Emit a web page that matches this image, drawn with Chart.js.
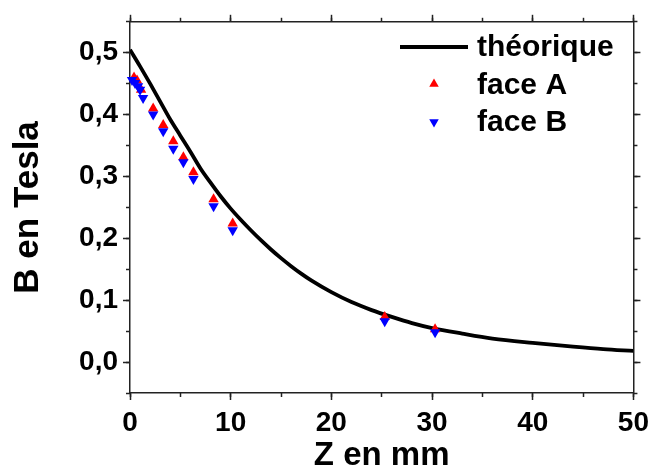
<!DOCTYPE html>
<html>
<head>
<meta charset="utf-8">
<script src="https://cdn.jsdelivr.net/npm/chart.js@4/dist/chart.umd.min.js"></script>
<style>
  body { margin: 0; background: #fff; }
  #wrap { width: 655px; height: 476px; }
</style>
</head>
<body>
<div id="wrap"><canvas id="chartContainer" width="655" height="476"></canvas></div>
<script>
// theoretical curve
var zTheo = [0, 1, 2, 3, 4, 5, 6, 7, 8, 9, 10, 11, 12, 13, 14, 15, 16, 17, 18, 20, 22, 24, 26, 28, 30, 33, 36, 40, 44, 47, 50];
var bTheo = [0.505, 0.478, 0.450, 0.421, 0.392, 0.366, 0.340, 0.313, 0.290, 0.268, 0.248, 0.230, 0.213, 0.197, 0.182, 0.168, 0.155, 0.143, 0.132, 0.113, 0.097, 0.084, 0.073, 0.063, 0.055, 0.046, 0.038, 0.031, 0.025, 0.021, 0.018];

// measurements
var zFaceA = [0.4, 0.7, 1.1, 2.3, 3.3, 4.3, 5.3, 6.3, 8.3, 10.2, 25.3, 30.3];
var bFaceA = [0.460, 0.455, 0.440, 0.410, 0.383, 0.357, 0.331, 0.307, 0.263, 0.224, 0.073, 0.053];
var zFaceB = [0.2, 0.5, 0.8, 1.0, 1.3, 2.3, 3.3, 4.3, 5.3, 6.3, 8.3, 10.2, 25.3, 30.3];
var bFaceB = [0.456, 0.451, 0.446, 0.440, 0.427, 0.400, 0.373, 0.345, 0.323, 0.296, 0.252, 0.213, 0.066, 0.048];

var seriesNames = ['théorique', 'face A', 'face B'];

// ticks
var xTicks = [0, 10, 20, 30, 40, 50];
var xTickLabels = ['0', '10', '20', '30', '40', '50'];
var xMinorTicks = [0, 5, 10, 15, 20, 25, 30, 35, 40, 45, 50];
var yTicks = [0, 0.1, 0.2, 0.3, 0.4, 0.5];
var yTickLabels = ['0,0', '0,1', '0,2', '0,3', '0,4', '0,5'];
var yMinorTicks = [-0.05, 0, 0.05, 0.1, 0.15, 0.2, 0.25, 0.3, 0.35, 0.4, 0.45, 0.5, 0.55];

function pairs(xs, ys) {
    return xs.map(function (x, i) { return { x: x, y: ys[i] }; });
}

var FONT = '"Liberation Sans", Arial, sans-serif';
var AXIS = '#222';

function setTicks(list) {
    return function (scale) {
        scale.ticks = list.map(function (v) { return { value: v }; });
    };
}

// mirror / minor tick axes, no labels, zero size
function tickAxis(pos, min, max, list, len, border) {
    return {
        type: 'linear',
        position: pos,
        min: min,
        max: max,
        weight: 0,
        afterBuildTicks: setTicks(list),
        afterFit: function (s) {
            if (s.isHorizontal()) s.height = 0; else s.width = 0;
        },
        ticks: { display: false },
        grid: { drawOnChartArea: false, tickLength: len, tickWidth: 1.5, tickColor: AXIS },
        border: { display: border, color: AXIS, width: 1.5 }
    };
}

// legend drawn inside the plot
var insideLegend = {
    id: 'insideLegend',
    afterDraw: function (chart) {
        var ctx = chart.ctx;
        var ds = chart.data.datasets;
        ctx.save();
        ctx.font = 'bold 30px ' + FONT;
        ctx.fillStyle = '#000';
        ctx.textBaseline = 'middle';
        ctx.textAlign = 'left';

        ctx.strokeStyle = ds[2].borderColor;
        ctx.lineWidth = ds[2].borderWidth;
        ctx.beginPath();
        ctx.moveTo(400, 47);
        ctx.lineTo(468, 47);
        ctx.stroke();
        ctx.fillText(ds[2].label, 477, 48);

        ctx.fillStyle = ds[1].pointBackgroundColor;
        Chart.helpers.drawPoint(ctx, { pointStyle: 'triangle', radius: 5.5, rotation: 0, borderWidth: 0 }, 434, 84);
        ctx.fillStyle = '#000';
        ctx.fillText(ds[1].label, 477, 86);

        ctx.fillStyle = ds[0].pointBackgroundColor;
        Chart.helpers.drawPoint(ctx, { pointStyle: 'triangle', radius: 5.5, rotation: 180, borderWidth: 0 }, 434, 122);
        ctx.fillStyle = '#000';
        ctx.fillText(ds[0].label, 477, 123);
        ctx.restore();
    }
};

var ctx = document.getElementById('chartContainer').getContext('2d');
var myChart = new Chart(ctx, {
    type: 'scatter',
    data: {
        datasets: [{
            label: seriesNames[2],
            data: pairs(zFaceB, bFaceB),
            pointStyle: 'triangle',
            rotation: 180,
            pointRadius: 6,
            pointBackgroundColor: '#0000ff',
            pointBorderColor: '#0000ff',
            pointBorderWidth: 0,
            showLine: false,
            clip: false,
            order: 0
        }, {
            label: seriesNames[1],
            data: pairs(zFaceA, bFaceA),
            pointStyle: 'triangle',
            pointRadius: 6,
            pointBackgroundColor: '#ff0000',
            pointBorderColor: '#ff0000',
            pointBorderWidth: 0,
            showLine: false,
            clip: false,
            order: 1
        }, {
            label: seriesNames[0],
            data: pairs(zTheo, bTheo),
            showLine: true,
            borderColor: '#000',
            borderWidth: 3.8,
            pointRadius: 0,
            cubicInterpolationMode: 'monotone',
            order: 2
        }]
    },
    options: {
        responsive: false,
        animation: false,
        devicePixelRatio: 1,
        layout: { padding: { top: 17, right: 19, left: 0, bottom: 0 } },
        plugins: {
            legend: { display: false },
            tooltip: { enabled: false }
        },
        scales: {
            x: {
                type: 'linear',
                position: 'bottom',
                min: 0,
                max: 50,
                weight: 1,
                afterBuildTicks: setTicks(xTicks),
                afterFit: function (s) { s.height = 83; },
                ticks: {
                    color: '#000',
                    font: { family: FONT, size: 28, weight: 'bold' },
                    padding: 6,
                    maxRotation: 0,
                    callback: function (v, i) { return xTickLabels[i]; }
                },
                grid: { drawOnChartArea: false, tickLength: 7, tickWidth: 1.5, tickColor: AXIS },
                border: { color: AXIS, width: 1.5 },
                title: {
                    display: true,
                    text: 'Z en mm',
                    color: '#000',
                    font: { family: FONT, size: 33, weight: 'bold' },
                    padding: { top: 0, bottom: 0 }
                }
            },
            xMinor: tickAxis('bottom', 0, 50, xMinorTicks, 4, false),
            xTop: tickAxis('top', 0, 50, xTicks, 7, true),
            xTopMinor: tickAxis('top', 0, 50, xMinorTicks, 4, false),
            y: {
                type: 'linear',
                position: 'left',
                min: -0.05,
                max: 0.55,
                weight: 1,
                afterBuildTicks: setTicks(yTicks),
                afterFit: function (s) { s.width = 130; },
                ticks: {
                    color: '#000',
                    font: { family: FONT, size: 28, weight: 'bold' },
                    padding: 5,
                    callback: function (v, i) { return yTickLabels[i]; }
                },
                grid: { drawOnChartArea: false, tickLength: 7, tickWidth: 1.5, tickColor: AXIS },
                border: { color: AXIS, width: 1.5 },
                title: {
                    display: true,
                    text: 'B en Tesla',
                    color: '#000',
                    font: { family: FONT, size: 35, weight: 'bold' },
                    padding: { top: 7, bottom: 0 }
                }
            },
            yMinor: tickAxis('left', -0.05, 0.55, yMinorTicks, 4, false),
            yRight: tickAxis('right', -0.05, 0.55, yTicks, 7, true),
            yRightMinor: tickAxis('right', -0.05, 0.55, yMinorTicks, 4, false)
        }
    },
    plugins: [insideLegend]
});
</script>
</body>
</html>
